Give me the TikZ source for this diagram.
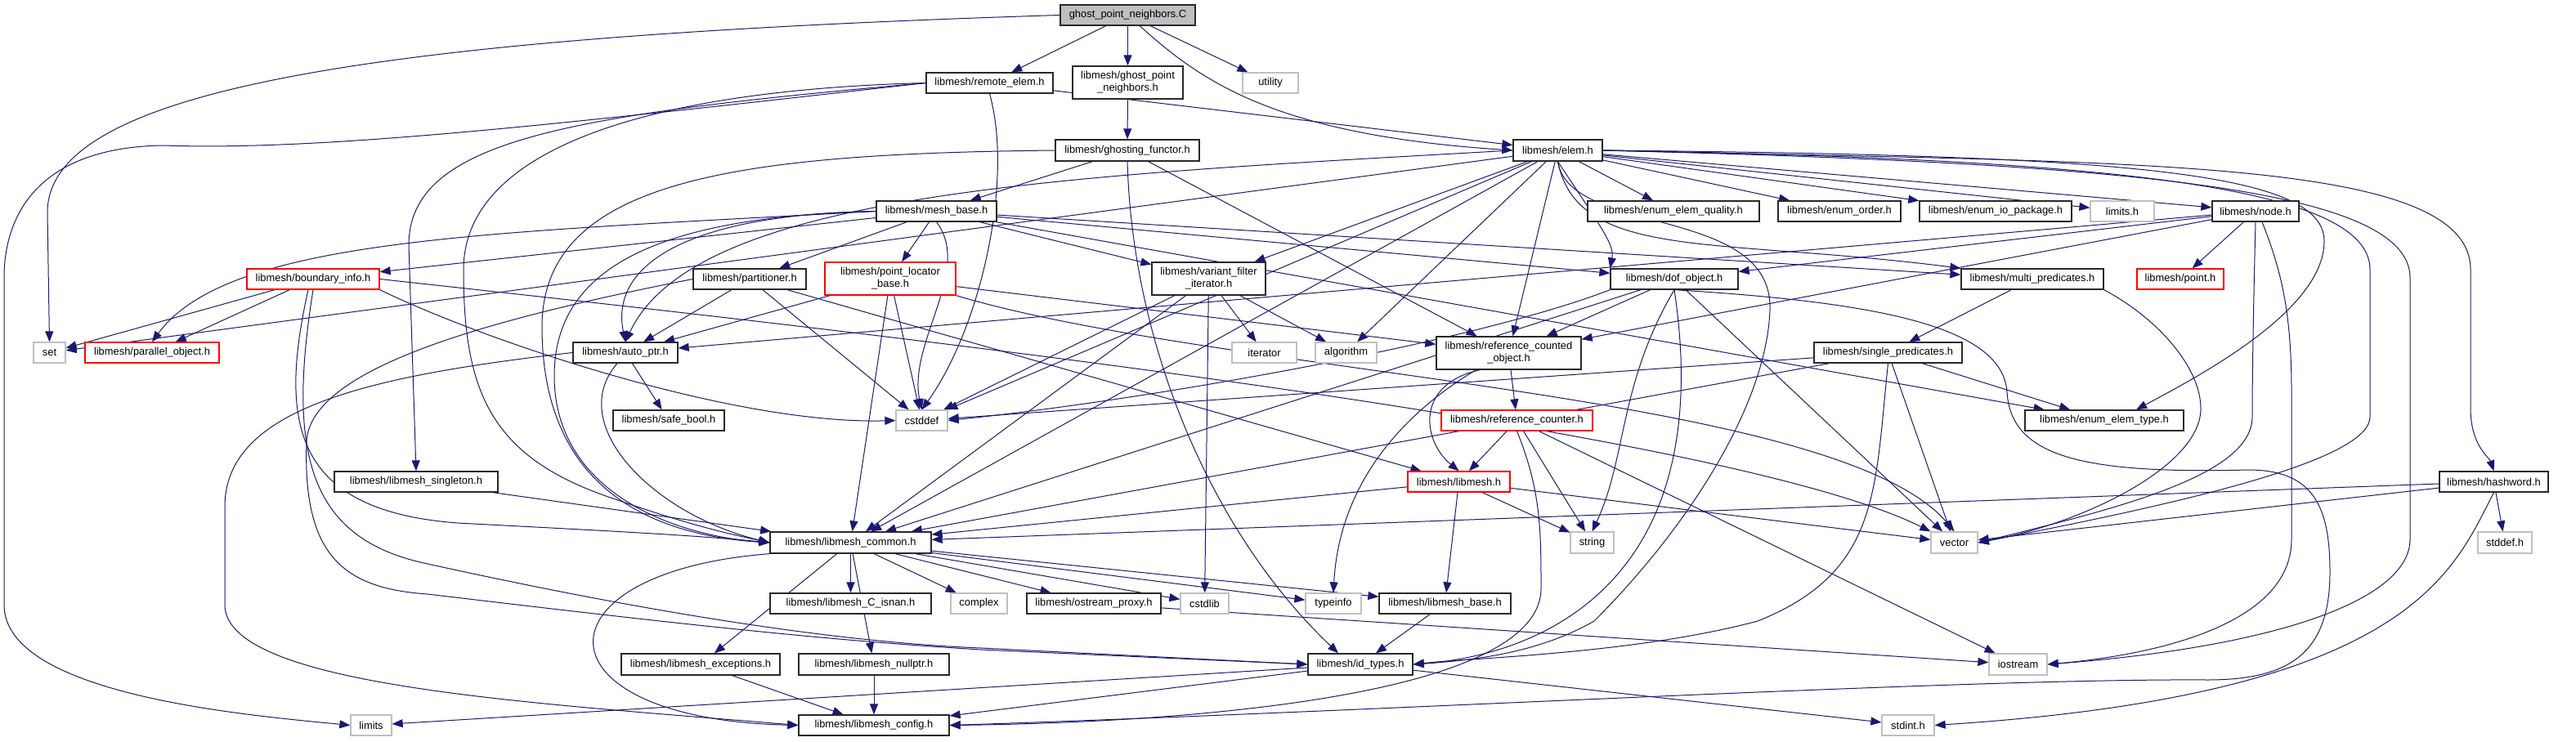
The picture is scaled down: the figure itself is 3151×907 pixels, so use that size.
\documentclass[tikz,border=0pt]{standalone}
\usepackage{fontspec}
\setmainfont{Liberation Sans}
\usetikzlibrary{arrows.meta,backgrounds,calc}
\definecolor{edgec}{RGB}{25,25,112}
\definecolor{gfill}{RGB}{191,191,191}
\definecolor{gline}{RGB}{191,191,191}
\definecolor{bline}{RGB}{40,40,40}
\newcommand\labfont{\fontsize{12.9bp}{15bp}\selectfont}
\tikzset{
 nb/.style={draw=bline,line width=1.3bp,fill=white,inner sep=0pt,align=center,font=\labfont},
 ng/.style={nb,draw=gline},
 nr/.style={nb,draw=red},
 e/.style={draw=edgec,line width=1bp,-{Triangle[length=13bp,width=10bp]}},
}
\begin{document}
\begin{tikzpicture}[x=1bp,y=-1bp]
\useasboundingbox (0,0) rectangle (3151,907);
% nodes
\node[nb,minimum width=165bp,minimum height=25bp,fill=gfill] (G) at (1379.5,18.5) {ghost\_point\_neighbors.C};
\node[nb,minimum width=155bp,minimum height=25bp] (RE) at (1210.5,101.5) {libmesh/remote\_elem.h};
\node[nb,minimum width=135bp,minimum height=40bp] (GPN) at (1379.5,101) {libmesh/ghost\_point\\\_neighbors.h};
\node[ng,minimum width=68bp,minimum height=25bp] (util) at (1554,101.5) {utility};
\node[nb,minimum width=176bp,minimum height=26bp] (GF) at (1379,184) {libmesh/ghosting\_functor.h};
\node[nb,minimum width=109bp,minimum height=26bp] (elem) at (1905.5,184) {libmesh/elem.h};
\node[nb,minimum width=147bp,minimum height=25bp] (MB) at (1145.5,258.5) {libmesh/mesh\_base.h};
\node[nb,minimum width=210bp,minimum height=25bp] (EQ) at (2047,258.5) {libmesh/enum\_elem\_quality.h};
\node[nb,minimum width=150bp,minimum height=25bp] (EO) at (2250,258.5) {libmesh/enum\_order.h};
\node[nb,minimum width=186bp,minimum height=25bp] (EIO) at (2441,258.5) {libmesh/enum\_io\_package.h};
\node[ng,minimum width=78bp,minimum height=25bp] (limitsh) at (2596,258.5) {limits.h};
\node[nb,minimum width=106bp,minimum height=25bp] (node) at (2759,258.5) {libmesh/node.h};
\node[nr,minimum width=162bp,minimum height=25bp] (BI) at (383,341.5) {libmesh/boundary\_info.h};
\node[nb,minimum width=138bp,minimum height=25bp] (part) at (917,341.5) {libmesh/partitioner.h};
\node[nr,minimum width=160bp,minimum height=40bp] (PLB) at (1089,341) {libmesh/point\_locator\\\_base.h};
\node[nb,minimum width=139bp,minimum height=40bp] (VFI) at (1478.5,341) {libmesh/variant\_filter\\\_iterator.h};
\node[nb,minimum width=156bp,minimum height=25bp] (dof) at (2048,341.5) {libmesh/dof\_object.h};
\node[nb,minimum width=174bp,minimum height=25bp] (MP) at (2486,341.5) {libmesh/multi\_predicates.h};
\node[nr,minimum width=106bp,minimum height=25bp] (point) at (2667,341.5) {libmesh/point.h};
\node[ng,minimum width=39bp,minimum height=25bp] (set) at (60.5,431.5) {set};
\node[nr,minimum width=164bp,minimum height=25bp] (PO) at (186,431.5) {libmesh/parallel\_object.h};
\node[nb,minimum width=128bp,minimum height=25bp] (AP) at (765,431.5) {libmesh/auto\_ptr.h};
\node[ng,minimum width=79bp,minimum height=25bp] (iter) at (1546.5,431.5) {iterator};
\node[ng,minimum width=75bp,minimum height=25bp] (algo) at (1646.5,431.5) {algorithm};
\node[nb,minimum width=177bp,minimum height=40bp] (RCO) at (1845.5,432) {libmesh/reference\_counted\\\_object.h};
\node[nb,minimum width=181bp,minimum height=25bp] (SP) at (2309.5,431.5) {libmesh/single\_predicates.h};
\node[nb,minimum width=136bp,minimum height=25bp] (SB) at (818,514.5) {libmesh/safe\_bool.h};
\node[ng,minimum width=63bp,minimum height=25bp] (cstddef) at (1127.5,514.5) {cstddef};
\node[nr,minimum width=185bp,minimum height=25bp] (RC) at (1855.5,514.5) {libmesh/reference\_counter.h};
\node[nb,minimum width=194bp,minimum height=25bp] (EET) at (2574,514.5) {libmesh/enum\_elem\_type.h};
\node[nb,minimum width=200bp,minimum height=25bp] (sing) at (509,589.5) {libmesh/libmesh\_singleton.h};
\node[nr,minimum width=125bp,minimum height=25bp] (LM) at (1784.5,589.5) {libmesh/libmesh.h};
\node[nb,minimum width=133bp,minimum height=25bp] (hash) at (3050.5,589.5) {libmesh/hashword.h};
\node[nb,minimum width=197bp,minimum height=26bp] (common) at (1040.5,664) {libmesh/libmesh\_common.h};
\node[ng,minimum width=53bp,minimum height=26bp] (string) at (1947.5,664) {string};
\node[ng,minimum width=57bp,minimum height=26bp] (vector) at (2390.5,664) {vector};
\node[ng,minimum width=66bp,minimum height=26bp] (stddefh) at (3064,664) {stddef.h};
\node[nb,minimum width=197bp,minimum height=25bp] (isnan) at (1040.5,738.5) {libmesh/libmesh\_C\_isnan.h};
\node[ng,minimum width=69bp,minimum height=25bp] (complex) at (1197.5,738.5) {complex};
\node[nb,minimum width=164bp,minimum height=25bp] (OP) at (1338,738.5) {libmesh/ostream\_proxy.h};
\node[ng,minimum width=59bp,minimum height=25bp] (cstdlib) at (1473.5,738.5) {cstdlib};
\node[ng,minimum width=68bp,minimum height=25bp] (typeinfo) at (1631,738.5) {typeinfo};
\node[nb,minimum width=161bp,minimum height=25bp] (LB) at (1767.5,738.5) {libmesh/libmesh\_base.h};
\node[nb,minimum width=194bp,minimum height=26bp] (exc) at (857,813) {libmesh/libmesh\_exceptions.h};
\node[nb,minimum width=184bp,minimum height=26bp] (nullptr) at (1069,813) {libmesh/libmesh\_nullptr.h};
\node[nb,minimum width=128bp,minimum height=26bp] (idt) at (1664,813) {libmesh/id\_types.h};
\node[ng,minimum width=71bp,minimum height=26bp] (iostream) at (2468.5,813) {iostream};
\node[ng,minimum width=50bp,minimum height=25bp] (limits) at (454,887.5) {limits};
\node[nb,minimum width=184bp,minimum height=25bp] (config) at (1069,887.5) {libmesh/libmesh\_config.h};
\node[ng,minimum width=64bp,minimum height=25bp] (stdint) at (2334,887.5) {stdint.h};
% edges
\begin{scope}[on background layer]
% ghost_point_neighbors.C
\draw[e] (G.west) .. controls (450,45) and (58,110) .. (58,260) -- (set.north);
\draw[e] (G) -- (RE);
\draw[e] (G) -- (GPN);
\draw[e] (G) .. controls (1470,100) and (1560,165) .. (elem.west);
\draw[e] (G) -- (util);
% remote_elem
\draw[e] (RE) -- (elem);
\draw[e] (RE.west) .. controls (700,140) and (500,170) .. (500,300) -- (sing.north);
\draw[e] (RE.west) .. controls (700,150) and (400,185) .. (200,178) .. controls (50,180) and (5,260) .. (5,340) -- (5,740) .. controls (5,850) and (300,875) .. (limits.west);
\draw[e] (RE.south) .. controls (1240,220) and (1200,400) .. (cstddef.north);
\draw[e] (RE.west) .. controls (800,110) and (567,180) .. (567,330) .. controls (567,480) and (600,560) .. (750,610) .. controls (850,645) and (900,655) .. (common.west);
% ghost_point_neighbors.h
\draw[e] (GPN) -- (GF);
% ghosting_functor
\draw[e] (GF) -- (MB);
\draw[e] (GF.west) .. controls (900,188) and (663,220) .. (663,400) .. controls (663,600) and (800,655) .. (common.west);
\draw[e] (GF) -- (RCO);
\draw[e] (GF.south) .. controls (1385,420) and (1480,650) .. ($(idt.north)+(-27,0)$);
% mesh_base
\draw[e] (MB) -- (PLB);
\draw[e] (MB) -- (VFI);
\draw[e] (MB) -- (part);
\draw[e] (MB) -- (BI);
\draw[e] (MB.west) .. controls (600,285) and (280,290) .. (PO.north);
\draw[e] (MB.west) .. controls (850,262) and (745,320) .. (AP.north);
\draw[e] (MB.south) .. controls (1190,330) and (1110,420) .. (cstddef.north);
\draw[e] (MB.west) .. controls (800,265) and (678,330) .. (678,460) .. controls (678,600) and (820,655) .. (common.west);
\draw[e] (MB) -- (dof);
\draw[e] (MB) -- (MP);
\draw[e] (MB) -- (EET);
% boundary_info
\draw[e] (BI) -- (set);
\draw[e] (BI) -- (PO);
\draw[e] ($(BI.south)+(-6,0)$) .. controls (340,520) and (360,625) .. (560,640) .. controls (750,650) and (850,655) .. (common.west);
\draw[e] (BI.south) .. controls (350,560) and (380,660) .. (523,690) .. controls (750,740) and (1000,785) .. (1200,793) -- (idt.west);
\draw[e] (BI.south east) .. controls (600,420) and (900,520) .. (cstddef.west);
\draw[e] (BI.east) .. controls (1000,400) and (2100,520) .. (vector.north west);
% partitioner
\draw[e] (part) -- (AP);
\draw[e] (part) -- (cstddef);
\draw[e] (part) -- (LM);
\draw[e] (part.west) .. controls (600,390) and (380,450) .. (375,540) .. controls (370,680) and (420,720) .. (523,727) .. controls (800,760) and (1000,783) .. (1200,795) -- (idt.west);
% point_locator_base
\draw[e] (PLB) -- (AP);
\draw[e] (PLB) -- (RCO);
\draw[e] (PLB) -- (cstddef);
\draw[e] (PLB) -- (common);
\draw[e] (PLB.south east) .. controls (1500,460) and (2250,480) .. (vector.north);
% variant_filter_iterator
\draw[e] (VFI) -- (iter);
\draw[e] (VFI) -- (algo);
\draw[e] (VFI) -- (cstddef);
\draw[e] (VFI) -- (common);
\draw[e] (VFI) -- (cstdlib);
% elem
\draw[e] (elem) -- (EQ);
\draw[e] (elem) -- (EO);
\draw[e] (elem) -- (EIO);
\draw[e] (elem) -- (limitsh);
\draw[e] (elem) -- (node);
\draw[e] (elem.east) .. controls (2600,200) and (3022,190) .. (3022,330) -- (3022,500) .. controls (3022,545) and (3045,560) .. (hash.north);
\draw[e] (elem.south) .. controls (1930,320) and (2100,290) .. (MP.north west);
\draw[e] (elem.south) .. controls (1960,280) and (1975,300) .. (dof.north west);
\draw[e] (elem) -- (RCO);
\draw[e] (elem) -- (algo);
\draw[e] (elem) -- (cstddef);
\draw[e] (elem) -- (VFI);
\draw[e] (elem.west) .. controls (1300,215) and (850,235) .. (AP.north);
\draw[e] (elem) -- (set);
\draw[e] (elem) -- (common);
\draw[e] (elem.south) .. controls (1920,290) and (2170,250) .. (2165,380) .. controls (2160,500) and (2060,650) .. (1950,760) .. controls (1880,800) and (1800,808) .. (idt.east);
\draw[e] (elem.east) .. controls (2600,190) and (2843,210) .. (2843,295) .. controls (2843,380) and (2690,460) .. ($(EET.north)+(39,0)$);
\draw[e] (elem.east) .. controls (2600,195) and (2899,230) .. (2899,330) -- (2899,510) .. controls (2899,560) and (2700,610) .. (vector.east);
\draw[e] (elem.east) .. controls (2600,200) and (2948,230) .. (2948,340) -- (2948,660) .. controls (2948,730) and (2800,790) .. (iostream.east);
% node
\draw[e] (node) -- (point);
\draw[e] (node) -- (dof);
\draw[e] (node) -- (RCO);
\draw[e] (node) -- (AP);
\draw[e] (node.south) .. controls (2757,350) and (2755,450) .. (2755,510) .. controls (2755,580) and (2600,620) .. (vector.east);
\draw[e] ($(node.south)+(8,0)$) .. controls (2790,330) and (2803,380) .. (2803,480) -- (2803,660) .. controls (2803,760) and (2650,800) .. (iostream.east);
% dof_object
\draw[e] (dof) -- (RCO);
\draw[e] (dof.south west) .. controls (1800,420) and (1400,490) .. (cstddef.east);
\draw[e] (dof) -- (vector);
\draw[e] (dof.south) .. controls (2100,700) and (1900,800) .. (idt.east);
\draw[e] (dof) -- (common);
\draw[e] (dof.south) .. controls (1980,470) and (1990,560) .. (string.north);
\draw[e] (dof.south) .. controls (2300,370) and (2450,400) .. (2455,480) .. controls (2460,560) and (2550,580) .. (2750,575) .. controls (2830,575) and (2850,620) .. (2850,700) .. controls (2850,800) and (2800,832) .. (2700,832) .. controls (2400,830) and (1700,870) .. (config.east);
% multi_predicates
\draw[e] (MP) -- (SP);
\draw[e] (MP.south east) .. controls (2640,390) and (2692,450) .. (2692,500) .. controls (2692,570) and (2550,640) .. (vector.east);
% single_predicates
\draw[e] (SP) -- (cstddef);
\draw[e] (SP) -- (common);
\draw[e] (SP) -- (EET);
\draw[e] (SP) -- (vector);
\draw[e] (SP.south) .. controls (2293,600) and (2300,700) .. (2150,760) .. controls (2000,800) and (1800,805) .. (idt.east);
% reference_counted_object
\draw[e] (RCO) -- (RC);
\draw[e] ($(RCO.south)+(-40,0)$) .. controls (1760,480) and (1640,560) .. (typeinfo.north);
\draw[e] ($(RCO.south)+(-35,0)$) .. controls (1730,470) and (1740,540) .. (LM.north);
% reference_counter
\draw[e] (RC) -- (LM);
\draw[e] (RC) -- (string);
\draw[e] (RC) -- (iostream);
\draw[e] (RC.south) .. controls (1885,600) and (1885,650) .. (1885,720) .. controls (1885,860) and (1400,885) .. (config.east);
% libmesh.h
\draw[e] (LM) -- (common);
\draw[e] (LM) -- (LB);
\draw[e] (LM) -- (string);
\draw[e] (LM) -- (vector);
% libmesh_base
\draw[e] (LB) -- (idt);
% libmesh_common
\draw[e] (common) -- (isnan);
\draw[e] (common) -- (complex);
\draw[e] (common) -- (OP);
\draw[e] (common) -- (cstdlib);
\draw[e] (common) -- (typeinfo);
\draw[e] (common) -- (LB);
\draw[e] (common) -- (exc);
\draw[e] (common) -- (nullptr);
\draw[e] (common.south west) .. controls (650,700) and (650,880) .. (config.west);
% others
\draw[e] (exc) -- (config);
\draw[e] (nullptr) -- (config);
\draw[e] (idt) -- (limits);
\draw[e] (idt) -- (stdint);
\draw[e] (idt) -- (config);
\draw[e] (OP) -- (iostream);
\draw[e] (hash) -- (stddefh);
\draw[e] (hash.south) .. controls (3000,700) and (2950,850) .. (stdint.east);
\draw[e] (hash) -- (common);
\draw[e] (hash) -- (vector);
\draw[e] (AP) -- (SB);
\draw[e] ($(AP.south)+(-10,0)$) .. controls (690,520) and (800,630) .. (common.west);
\draw[e] (AP.west) .. controls (450,460) and (275,500) .. (275,620) -- (275,740) .. controls (275,840) and (650,860) .. (config.west);
\draw[e] (sing) -- (common);
\end{scope}
\end{tikzpicture}
\end{document}
